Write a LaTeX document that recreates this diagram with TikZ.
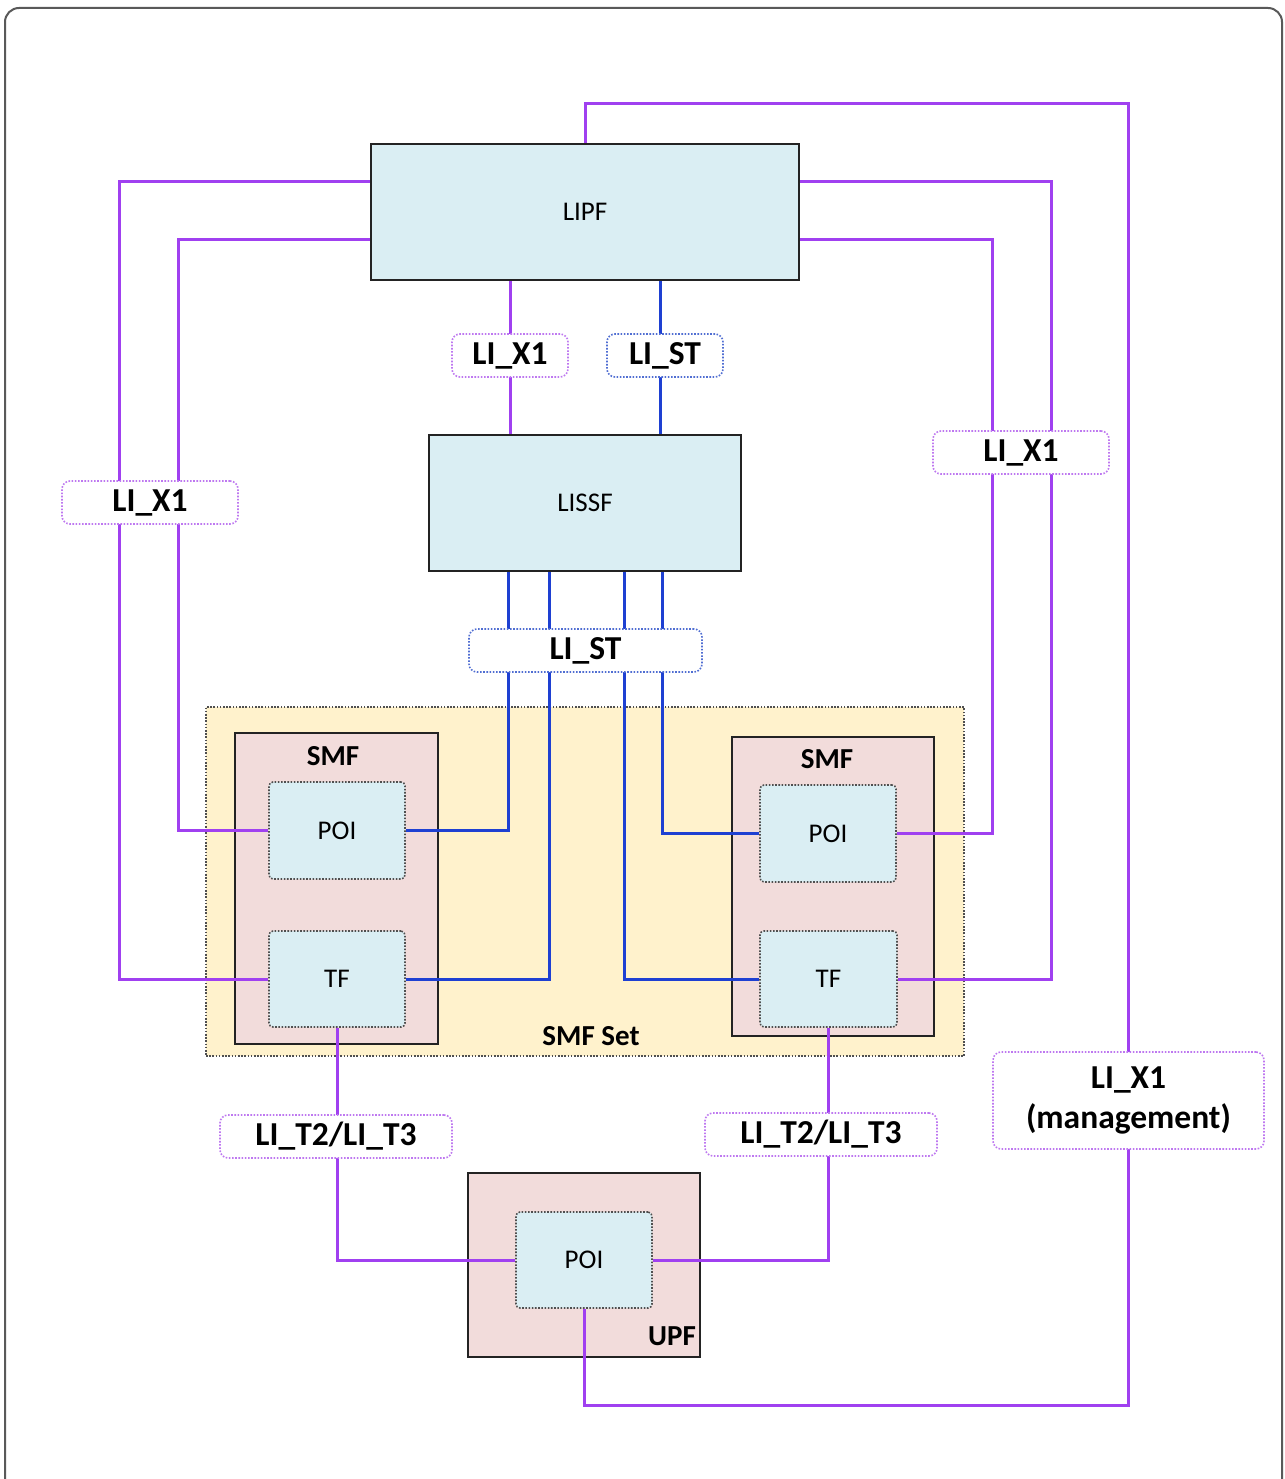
\documentclass[tikz,border=0pt]{standalone}
\usepackage{fontspec}
\setmainfont{Carlito}
\definecolor{pur}{RGB}{160,64,240}
\definecolor{blu}{RGB}{30,64,210}
\definecolor{lpur}{RGB}{190,120,240}
\definecolor{lblu}{RGB}{80,110,210}
\definecolor{lbfill}{RGB}{218,238,243}
\definecolor{pink}{RGB}{242,220,219}
\definecolor{yel}{RGB}{255,242,204}
\definecolor{edge}{RGB}{35,35,35}
\pgfdeclarelayer{bg}
\pgfdeclarelayer{ln}
\pgfsetlayers{bg,ln,main}
\tikzset{
  px/.style={draw=pur,line width=3pt},
  bx/.style={draw=blu,line width=3pt},
  bigbox/.style={draw=edge,line width=2.8pt,fill=lbfill,font=\fontsize{27}{31}\selectfont,inner sep=0pt},
  nfbox/.style={draw=edge,line width=2.8pt,fill=pink,inner sep=0pt},
  inbox/.style={draw=edge!80,line width=1.6pt,dash pattern=on 1.6pt off 1.6pt,rounded corners=4pt,fill=lbfill,font=\fontsize{27}{31}\selectfont,inner sep=0pt},
  plab/.style={draw=lpur,line width=1.6pt,dash pattern=on 1.6pt off 1.6pt,rounded corners=8pt,fill=white,font=\fontsize{33.5}{40}\bfseries\selectfont,inner sep=0pt,align=center},
  blab/.style={plab,draw=lblu},
  boldtxt/.style={font=\fontsize{29}{33}\bfseries\selectfont,inner sep=0pt}
}
\begin{document}
\begin{tikzpicture}[x=1pt,y=-1pt]
\useasboundingbox (0,0) rectangle (1284,1479);

\begin{pgfonlayer}{bg}
\fill[white] (0,0) rectangle (1284,1479);
\draw[gray!70!black,line width=2pt,rounded corners=14pt] (5,1479) -- (5,8) -- (1282,8) -- (1282,1479);
\node[draw=edge!80,line width=1.6pt,dash pattern=on 1.6pt off 1.6pt,fill=yel,minimum width=758pt,minimum height=349pt,inner sep=0pt] (smfset) at (585,881.5) {};
\node[nfbox,minimum width=203pt,minimum height=311pt] (lsmf) at (336.5,888.5) {};
\node[nfbox,minimum width=202pt,minimum height=299pt] (rsmf) at (833,886.5) {};
\node[nfbox,minimum width=232pt,minimum height=184pt] (upf) at (584,1265) {};
\end{pgfonlayer}

% main boxes
\node[bigbox,minimum width=428pt,minimum height=136pt] (lipf) at (585,212) {LIPF};
\node[bigbox,minimum width=312pt,minimum height=136pt] (lissf) at (585,503) {LISSF};

\node[boldtxt] (lsmft) at (333,756) {SMF};
\node[boldtxt] (rsmft) at (827,759) {SMF};
\node[boldtxt] (smfsett) at (591,1036) {SMF Set};
\node[boldtxt] (upft) at (672,1336) {UPF};

\node[inbox,minimum width=136pt,minimum height=97pt] (lpoi) at (337,830.5) {POI};
\node[inbox,minimum width=136pt,minimum height=96pt] (ltf) at (337,979) {TF};
\node[inbox,minimum width=136pt,minimum height=97pt] (rpoi) at (828,833.5) {POI};
\node[inbox,minimum width=137pt,minimum height=96pt] (rtf) at (828.5,979) {TF};
\node[inbox,minimum width=136pt,minimum height=96pt] (upoi) at (584,1260) {POI};

% helper coordinates
\coordinate (ctop) at (1128,104);
\coordinate (cbot) at (1128,1405);
\coordinate (ya) at (0,182);
\coordinate (yb) at (0,240);
\coordinate (xa) at (119,0);
\coordinate (xb) at (178,0);
\coordinate (xc) at (1051,0);
\coordinate (xd) at (992,0);
\coordinate (x1) at (510,0);
\coordinate (x2) at (660,0);
\coordinate (b1) at (508,0);
\coordinate (b2) at (549,0);
\coordinate (b3) at (624,0);
\coordinate (b4) at (662,0);

\begin{pgfonlayer}{ln}
\draw[px] (lipf.north) |- (ctop) -- (cbot) -| (upoi.south);
\draw[px] (lipf.west |- ya) -| (ltf.west -| xa) -- (ltf.west);
\draw[px] (lipf.west |- yb) -| (lpoi.west -| xb) -- (lpoi.west);
\draw[px] (lipf.east |- ya) -| (rtf.east -| xc) -- (rtf.east);
\draw[px] (lipf.east |- yb) -| (rpoi.east -| xd) -- (rpoi.east);
\draw[px] (lipf.south -| x1) -- (lissf.north -| x1);
\draw[bx] (lipf.south -| x2) -- (lissf.north -| x2);
\draw[bx] (lissf.south -| b1) |- (lpoi.east);
\draw[bx] (lissf.south -| b2) |- (ltf.east);
\draw[bx] (lissf.south -| b3) |- (rtf.west);
\draw[bx] (lissf.south -| b4) |- (rpoi.west);
\draw[px] (ltf.south) |- (upoi.west);
\draw[px] (rtf.south) |- (upoi.east);
\end{pgfonlayer}

% labels
\node[plab,minimum width=116pt,minimum height=43pt] (lx1a) at (510,355.5) {LI\_X1};
\node[blab,minimum width=116pt,minimum height=43pt] (lsta) at (665,355.5) {LI\_ST};
\node[plab,minimum width=176pt,minimum height=43pt] (lx1l) at (150,502.5) {LI\_X1};
\node[plab,minimum width=176pt,minimum height=43pt] (lx1r) at (1021,452.5) {LI\_X1};
\node[blab,minimum width=233pt,minimum height=43pt] (lstb) at (585.5,650.5) {LI\_ST};
\node[plab,minimum width=232pt,minimum height=43pt] (lt2l) at (336,1136.5) {LI\_T2/LI\_T3};
\node[plab,minimum width=232pt,minimum height=43pt] (lt2r) at (821,1134.5) {LI\_T2/LI\_T3};
\node[plab,minimum width=271pt,minimum height=97pt] (mgmt) at (1128.5,1100.5) {LI\_X1\\(management)};
\end{tikzpicture}
\end{document}
